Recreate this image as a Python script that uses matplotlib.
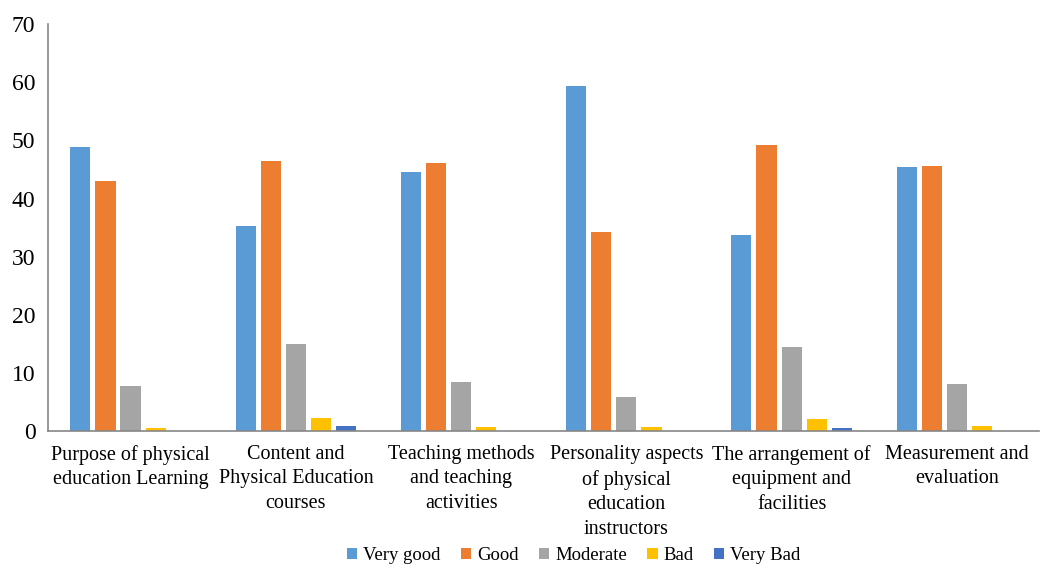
import numpy as np
import matplotlib.pyplot as plt

plt.rcParams['font.family'] = ['Liberation Serif', 'DejaVu Serif']

categories = [
    "Purpose of physical\neducation Learning",
    "Content and\nPhysical Education\ncourses",
    "Teaching methods\nand teaching\nactivities",
    "Personality aspects\nof physical\neducation\ninstructors",
    "The arrangement of\nequipment and\nfacilities",
    "Measurement and\nevaluation",
]
series_names = ["Very good", "Good", "Moderate", "Bad", "Very Bad"]
very_good = [48.8, 35.2, 44.6, 59.4, 33.7, 45.5]
good = [43.1, 46.5, 46.2, 34.3, 49.2, 45.6]
moderate = [7.7, 15.0, 8.5, 5.8, 14.5, 8.0]
bad = [0.5, 2.3, 0.6, 0.6, 2.0, 0.9]
very_bad = [0.0, 0.8, 0.0, 0.0, 0.5, 0.0]
colors = ["#5B9BD5", "#ED7D31", "#A5A5A5", "#FFC000", "#4472C4"]

fig = plt.figure(figsize=(10.47, 5.64), dpi=100)
ax = fig.add_axes([0.0458, 0.236, 0.947, 0.721])

x = np.arange(len(categories))
step = 0.152
width = 0.122
for i, (vals, name, c) in enumerate(zip([very_good, good, moderate, bad, very_bad],
                                        series_names, colors)):
    ax.bar(x + (i - 2) * step, vals, width, color=c, label=name)

ax.set_xlim(-0.5, len(categories) - 0.5)
ax.set_ylim(0, 70)
ax.set_yticks(range(0, 71, 10))
ax.set_xticks(x)
ax.set_xticklabels(categories, fontsize=14.5, linespacing=1.4, va='top')
ax.tick_params(axis='y', labelsize=17, length=0, pad=9)
ax.tick_params(axis='x', length=0, pad=10)

for s in ['top', 'right']:
    ax.spines[s].set_visible(False)
for s in ['left', 'bottom']:
    ax.spines[s].set_color('#868686')
    ax.spines[s].set_linewidth(1.2)

fig.legend(loc='lower center', bbox_to_anchor=(0.548, -0.03), ncol=5,
           frameon=False, fontsize=13.5, handlelength=0.55, handleheight=0.55,
           handletextpad=0.3, columnspacing=1.1)

fig.savefig('out.png', dpi=100)
